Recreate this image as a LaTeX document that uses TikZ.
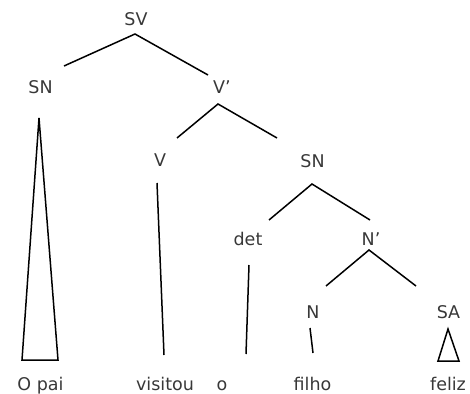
\documentclass[tikz,border=0pt]{standalone}
\usepackage{fontspec}
\setmainfont{DejaVu Sans}
\begin{document}
\begin{tikzpicture}[x=1pt,y=-1pt,
  lbl/.style={anchor=base,inner sep=0pt,text=black!78,font=\fontsize{17.5}{20}\selectfont},
  edge/.style={draw=black,line width=1.5pt},
  roof/.style={draw=black,line width=1.5pt,line join=miter}]
\useasboundingbox (0,0) rectangle (470,393);

% category labels
\node[lbl] (sv)  at (136,26)  {SV};
\node[lbl] (sn)  at (40.5,94) {SN};
\node[lbl] (vb)  at (222,94)  {V’};
\node[lbl] (v)   at (160,166) {V};
\node[lbl] (sn2) at (312.5,167) {SN};
\node[lbl] (det) at (248,245) {det};
\node[lbl] (nb)  at (371,245) {N’};
\node[lbl] (n)   at (313,318) {N};
\node[lbl] (sa)  at (448.5,318) {SA};

% terminal words
\node[lbl] (w1) at (40.5,390) {O pai};
\node[lbl] (w2) at (165,390)  {visitou};
\node[lbl] (w3) at (222,390)  {o};
\node[lbl] (w4) at (312.5,390) {filho};
\node[lbl] (w5) at (448,390)  {feliz};

% branch end points
\coordinate (sv-b)  at (135,34);
\coordinate (sn-t)  at (64,66);
\coordinate (vb-t)  at (208,75);
\coordinate (vb-b)  at (218,104);
\coordinate (v-t)   at (177,138);
\coordinate (sn2-t) at (277,138);
\coordinate (sn2-b) at (312,184);
\coordinate (det-t) at (269,220);
\coordinate (nb-t)  at (370,220);
\coordinate (nb-b)  at (369,250);
\coordinate (n-t)   at (326,286);
\coordinate (sa-t)  at (416,286);
\coordinate (v-b)   at (157,183);
\coordinate (w2-t)  at (164,355);
\coordinate (det-b) at (249,265);
\coordinate (w3-t)  at (246,354);
\coordinate (n-b)   at (310,328);
\coordinate (w4-t)  at (313,353);
\coordinate (sn-apex) at (39,118);
\coordinate (sn-l)  at (22,360);
\coordinate (sn-r)  at (58,360);
\coordinate (sa-apex) at (448,329);
\coordinate (sa-l)  at (438,361);
\coordinate (sa-r)  at (459,361);

% branches
\draw[edge] (sn-t) -- (sv-b) -- (vb-t);
\draw[edge] (v-t) -- (vb-b) -- (sn2-t);
\draw[edge] (det-t) -- (sn2-b) -- (nb-t);
\draw[edge] (n-t) -- (nb-b) -- (sa-t);
\draw[edge] (v-b) -- (w2-t);
\draw[edge] (det-b) -- (w3-t);
\draw[edge] (n-b) -- (w4-t);

% triangles for unanalysed phrases
\draw[roof] (sn-apex) -- (sn-l) -- (sn-r) -- cycle;
\draw[roof] (sa-apex) -- (sa-l) -- (sa-r) -- cycle;
\end{tikzpicture}
\end{document}
